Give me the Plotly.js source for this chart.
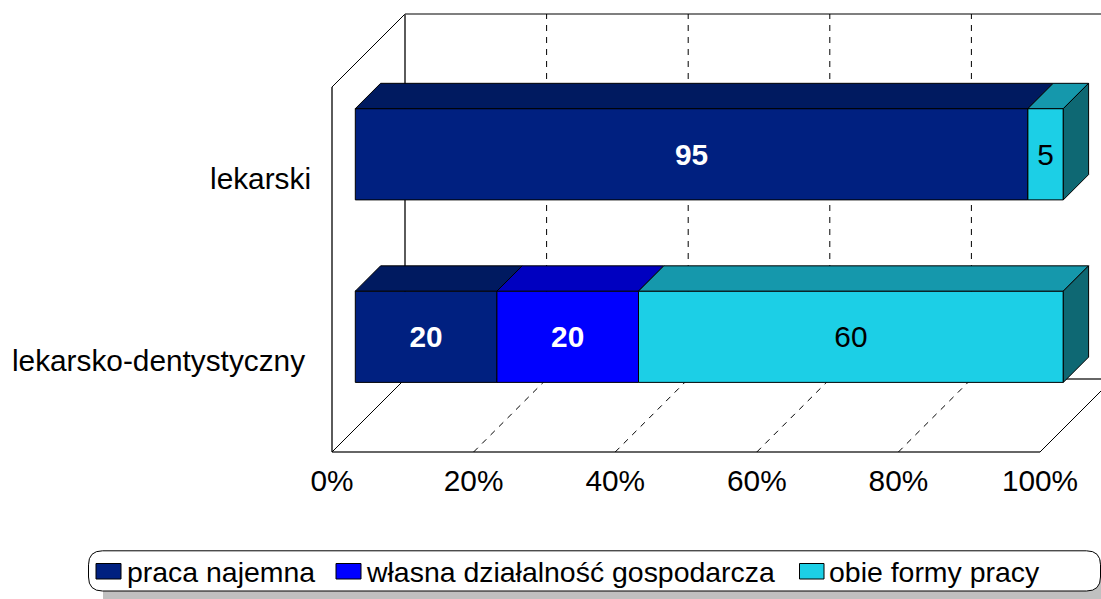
<!DOCTYPE html>
<html>
<head>
<meta charset="utf-8">
<script src="https://cdn.plot.ly/plotly-3.0.1.min.js"></script>
<style>html,body{margin:0;padding:0;background:#fff;overflow:hidden}#chart{width:1101px;height:599px}</style>
</head>
<body>
<div id="chart"></div>
<script>
// Data
const categories = ['lekarsko-dentystyczny\u2009', 'lekarski'];
const seriesNames = ['praca najemna', 'własna działalność gospodarcza', 'obie formy pracy'];
const pracaNajemna = [20, 95];
const wlasnaDzialalnosc = [20, 0];
const obieFormyPracy = [60, 5];
const xTicks = [0, 20, 40, 60, 80, 100];
const xTickLabels = ['0%', '20%', '40%', '60%', '80%', '100%'];

// Styles
const frontColors = ['#002080', '#0000FF', '#1CCFE6'];
const topColors = ['#001A60', '#0000C0', '#1598AC'];
const sideColors = ['#001040', '#000080', '#0E6873'];
const labelColors = ['#FFFFFF', '#FFFFFF', '#000000'];
const labelWeights = ['bold', 'bold', 'normal'];
const FONT = '"Liberation Sans", Arial, sans-serif';

// Geometry of the oblique projection.
// SX px = 100 %, SY px = two category bands; the plot area runs on to the page edge and top
// so that the projected depth of the bars is not clipped.
const PAGE_W = 1101, PAGE_H = 599, L = 332, FLOOR = 452, SX = 708, SY = 365;
const W = PAGE_W - L, H = FLOOR;
const WALL_DEPTH = 73, BAR_FRONT_X = 23.3, BAR_FRONT_Y = 24, BAR_DEPTH = 25.3;
const BAR_WIDTH = 0.5;
const dxData = px => px * 100 / SX;
const dyData = px => px * 2 / SY;
const yMin = -0.5, yMax = 1.5;
const xRangeMax = dxData(W), yRangeMax = yMin + dyData(H);
const paperX = (v, d) => (v / 100 * SX + (d || 0)) / W;
const paperY = (c, d) => ((c - yMin) / 2 * SY + (d || 0)) / H;
const pxX = px => (px - L) / W;
const pxY = py => (FLOOR - py) / H;

const series = [pracaNajemna, wlasnaDzialalnosc, obieFormyPracy];
const yIdx = categories.map((_, i) => i);
const baseX = dxData(BAR_FRONT_X);
const baseY = dyData(BAR_FRONT_Y);

// Front faces: real bars
const traces = [];
const cum = categories.map(() => 0);
const segs = [];
series.forEach((vals, s) => {
  const bases = vals.map((v, i) => cum[i] + baseX);
  traces.push({
    type: 'bar', orientation: 'h', name: seriesNames[s],
    x: vals, base: bases, y: yIdx.map(i => i + baseY), width: BAR_WIDTH,
    marker: {color: frontColors[s], line: {color: '#000', width: 1}},
    text: vals.map(v => v > 0 ? String(v) : ''), textposition: 'inside',
    insidetextanchor: 'middle', textangle: 0, constraintext: 'none',
    textfont: {family: FONT, size: 29.8, color: labelColors[s], weight: labelWeights[s]},
    cliponaxis: false, hoverinfo: 'skip', showlegend: false
  });
  vals.forEach((v, i) => {
    if (v > 0) segs.push({s, i, a: cum[i], b: cum[i] + v});
    cum[i] += v;
  });
});

// Top and end faces of the bars, projected from the same values
const dX = dxData(BAR_DEPTH), dY = dyData(BAR_DEPTH), hw = BAR_WIDTH / 2;
function face(xs, ys, color) {
  traces.push({
    type: 'scatter', mode: 'lines', x: xs, y: ys, fill: 'toself', fillcolor: color,
    line: {color: '#000', width: 1}, cliponaxis: false, hoverinfo: 'skip', showlegend: false
  });
}
segs.forEach(g => {
  const x0 = g.a + baseX, x1 = g.b + baseX, yT = g.i + baseY + hw;
  face([x0, x1, x1 + dX, x0 + dX, x0], [yT, yT, yT + dY, yT + dY, yT], topColors[g.s]);
});
categories.forEach((_, i) => {
  const last = segs.filter(g => g.i === i).pop();
  const x1 = last.b + baseX, yT = i + baseY + hw, yB = i + baseY - hw;
  face([x1, x1 + dX, x1 + dX, x1, x1], [yT, yT + dY, yB + dY, yB, yT], sideColors[last.s]);
});

// Walls, floor and gridlines
const wall = {color: '#333', width: 1.6};
const thin = {color: '#000', width: 1};
const dash = {color: '#000', width: 1, dash: '6px,6px'};
const line = (x0, y0, x1, y1, l) => ({type: 'line', xref: 'paper', yref: 'paper', layer: 'below', x0, y0, x1, y1, line: l});
const shapes = [
  line(paperX(0), paperY(yMin), paperX(0), paperY(yMax), wall),
  line(paperX(0), paperY(yMin), paperX(100), paperY(yMin), wall),
  line(paperX(0), paperY(yMin), paperX(0, WALL_DEPTH), paperY(yMin, WALL_DEPTH), thin),
  line(paperX(0), paperY(yMax), paperX(0, WALL_DEPTH), paperY(yMax, WALL_DEPTH), thin),
  line(paperX(0, WALL_DEPTH), paperY(yMin, WALL_DEPTH), paperX(0, WALL_DEPTH), paperY(yMax, WALL_DEPTH), wall),
  line(paperX(0, WALL_DEPTH), paperY(yMax, WALL_DEPTH), paperX(100, WALL_DEPTH), paperY(yMax, WALL_DEPTH), {color: '#555', width: 1.4}),
  line(paperX(0, WALL_DEPTH), paperY(yMin, WALL_DEPTH), paperX(100, WALL_DEPTH), paperY(yMin, WALL_DEPTH), wall),
  line(paperX(100), paperY(yMin), paperX(100, WALL_DEPTH), paperY(yMin, WALL_DEPTH), thin)
];
xTicks.slice(1, -1).forEach(t => {
  shapes.push(line(paperX(t, WALL_DEPTH), paperY(yMin, WALL_DEPTH), paperX(t, WALL_DEPTH), paperY(yMax, WALL_DEPTH), dash));
  shapes.push(line(paperX(t), paperY(yMin), paperX(t, WALL_DEPTH), paperY(yMin, WALL_DEPTH), dash));
});

// Legend box with shadow
function roundRect(x0, y0, x1, y1, r) {
  const X = pxX, Y = pxY;
  return `M${X(x0 + r)},${Y(y0)} L${X(x1 - r)},${Y(y0)} Q${X(x1)},${Y(y0)} ${X(x1)},${Y(y0 + r)} ` +
    `L${X(x1)},${Y(y1 - r)} Q${X(x1)},${Y(y1)} ${X(x1 - r)},${Y(y1)} L${X(x0 + r)},${Y(y1)} ` +
    `Q${X(x0)},${Y(y1)} ${X(x0)},${Y(y1 - r)} L${X(x0)},${Y(y0 + r)} Q${X(x0)},${Y(y0)} ${X(x0 + r)},${Y(y0)} Z`;
}
shapes.push({type: 'path', xref: 'paper', yref: 'paper', layer: 'above',
  path: roundRect(103, 560, 1112, 609, 12), fillcolor: '#C0C0C0', line: {width: 0}});
shapes.push({type: 'path', xref: 'paper', yref: 'paper', layer: 'above',
  path: roundRect(88.5, 550.8, 1100.5, 591, 14), fillcolor: '#FFFFFF', line: {color: '#000', width: 1}});

const legendSwatchX = [[96, 121], [336, 361], [799.5, 824]];
const legendTextX = [128, 367, 830];
const annotations = [];
seriesNames.forEach((n, s) => {
  shapes.push({type: 'rect', xref: 'paper', yref: 'paper', layer: 'above',
    x0: pxX(legendSwatchX[s][0]), x1: pxX(legendSwatchX[s][1]), y0: pxY(563.5), y1: pxY(579),
    fillcolor: frontColors[s], line: {color: '#000', width: 1}});
  annotations.push({xref: 'paper', yref: 'paper', x: pxX(legendTextX[s]), y: pxY(572),
    xanchor: 'left', yanchor: 'middle', xshift: -1, text: n, showarrow: false,
    borderpad: 0, borderwidth: 0, font: {family: FONT, size: 28.45, color: '#000'}});
});

const layout = {
  width: PAGE_W, height: PAGE_H,
  margin: {l: L, r: 0, t: 0, b: PAGE_H - FLOOR, pad: 0},
  paper_bgcolor: '#fff', plot_bgcolor: 'rgba(0,0,0,0)',
  barmode: 'overlay', showlegend: false,
  font: {family: FONT, color: '#000'},
  xaxis: {range: [0, xRangeMax], tickmode: 'array', tickvals: xTicks, ticktext: xTickLabels,
    showgrid: false, zeroline: false, showline: false, automargin: false,
    ticks: 'outside', ticklen: 2, tickcolor: 'rgba(0,0,0,0)',
    tickfont: {family: FONT, size: 29.8, color: '#000'}},
  yaxis: {range: [yMin, yRangeMax], tickmode: 'array', tickvals: yIdx, ticktext: categories,
    showgrid: false, zeroline: false, showline: false, automargin: false,
    ticks: 'outside', ticklen: 14, tickcolor: 'rgba(0,0,0,0)',
    tickfont: {family: FONT, size: 29.8, color: '#000'}},
  shapes, annotations
};
Plotly.newPlot('chart', traces, layout, {displayModeBar: false, staticPlot: true});
</script>
</body>
</html>
